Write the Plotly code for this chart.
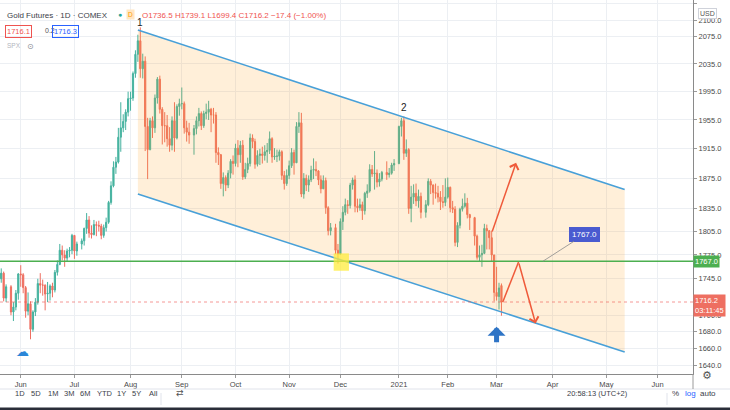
import math
import plotly.graph_objects as go

# daily candles (Gold Futures, 1D)
DATES = [
    "2020-05-20", "2020-05-21", "2020-05-22", "2020-05-26", "2020-05-27", "2020-05-28", "2020-05-29",
    "2020-06-01", "2020-06-02", "2020-06-03", "2020-06-04", "2020-06-05", "2020-06-08", "2020-06-09",
    "2020-06-10", "2020-06-11", "2020-06-12", "2020-06-15", "2020-06-16", "2020-06-17", "2020-06-18",
    "2020-06-19", "2020-06-22", "2020-06-23", "2020-06-24", "2020-06-25", "2020-06-26", "2020-06-29",
    "2020-06-30",
    "2020-07-01", "2020-07-02", "2020-07-06", "2020-07-07", "2020-07-08", "2020-07-09", "2020-07-10",
    "2020-07-13", "2020-07-14", "2020-07-15", "2020-07-16", "2020-07-17", "2020-07-20", "2020-07-21",
    "2020-07-22", "2020-07-23", "2020-07-24", "2020-07-27", "2020-07-28", "2020-07-29", "2020-07-30",
    "2020-07-31",
    "2020-08-03", "2020-08-04", "2020-08-05", "2020-08-06", "2020-08-07", "2020-08-10", "2020-08-11",
    "2020-08-12", "2020-08-13", "2020-08-14", "2020-08-17", "2020-08-18", "2020-08-19", "2020-08-20",
    "2020-08-21", "2020-08-24", "2020-08-25", "2020-08-26", "2020-08-27", "2020-08-28", "2020-08-31",
    "2020-09-01", "2020-09-02", "2020-09-03", "2020-09-04", "2020-09-08", "2020-09-09", "2020-09-10",
    "2020-09-11", "2020-09-14", "2020-09-15", "2020-09-16", "2020-09-17", "2020-09-18", "2020-09-21",
    "2020-09-22", "2020-09-23", "2020-09-24", "2020-09-25", "2020-09-28", "2020-09-29", "2020-09-30",
    "2020-10-01", "2020-10-02", "2020-10-05", "2020-10-06", "2020-10-07", "2020-10-08", "2020-10-09",
    "2020-10-12", "2020-10-13", "2020-10-14", "2020-10-15", "2020-10-16", "2020-10-19", "2020-10-20",
    "2020-10-21", "2020-10-22", "2020-10-23", "2020-10-26", "2020-10-27", "2020-10-28", "2020-10-29",
    "2020-10-30",
    "2020-11-02", "2020-11-03", "2020-11-04", "2020-11-05", "2020-11-06", "2020-11-09", "2020-11-10",
    "2020-11-11", "2020-11-12", "2020-11-13", "2020-11-16", "2020-11-17", "2020-11-18", "2020-11-19",
    "2020-11-20", "2020-11-23", "2020-11-24", "2020-11-25", "2020-11-27", "2020-11-30",
    "2020-12-01", "2020-12-02", "2020-12-03", "2020-12-04", "2020-12-07", "2020-12-08", "2020-12-09",
    "2020-12-10", "2020-12-11", "2020-12-14", "2020-12-15", "2020-12-16", "2020-12-17", "2020-12-18",
    "2020-12-21", "2020-12-22", "2020-12-23", "2020-12-24", "2020-12-28", "2020-12-29", "2020-12-30",
    "2020-12-31",
    "2021-01-04", "2021-01-05", "2021-01-06", "2021-01-07", "2021-01-08", "2021-01-11", "2021-01-12",
    "2021-01-13", "2021-01-14", "2021-01-15", "2021-01-19", "2021-01-20", "2021-01-21", "2021-01-22",
    "2021-01-25", "2021-01-26", "2021-01-27", "2021-01-28", "2021-01-29",
    "2021-02-01", "2021-02-02", "2021-02-03", "2021-02-04", "2021-02-05", "2021-02-08", "2021-02-09",
    "2021-02-10", "2021-02-11", "2021-02-12", "2021-02-16", "2021-02-17", "2021-02-18", "2021-02-19",
    "2021-02-22", "2021-02-23", "2021-02-24", "2021-02-25", "2021-02-26",
    "2021-03-01", "2021-03-02", "2021-03-03",
]
OPEN = [
    1745, 1752, 1721, 1735, 1704, 1710, 1727,
    1751, 1750, 1734, 1705, 1714, 1683, 1704, 1716, 1739, 1737, 1737, 1726, 1727, 1736,
    1731, 1753, 1763, 1781, 1775, 1771, 1780, 1781,
    1800, 1780, 1789, 1793, 1809, 1820, 1803, 1801, 1814, 1813, 1812, 1800, 1810, 1817,
    1843, 1865, 1890, 1897, 1931, 1944, 1953, 1966,
    1985, 1986, 2021, 2049, 2069, 2028, 2039, 1946, 1914, 1954, 1944, 1986, 2013, 1970,
    1947, 1947, 1929, 1920, 1954, 1930, 1974,
    1978, 1978, 1944, 1938, 1934, 1943, 1954, 1964, 1947, 1964, 1966, 1970, 1962, 1962,
    1910, 1907, 1868, 1876, 1866, 1882, 1898,
    1895, 1916, 1907, 1920, 1877, 1887, 1895, 1930, 1925, 1894, 1906, 1908, 1906, 1911,
    1913, 1929, 1904, 1905, 1905, 1911, 1879, 1868,
    1879, 1892, 1910, 1896, 1946, 1951, 1854, 1875, 1866, 1873, 1886, 1887, 1885, 1873,
    1861, 1872, 1836, 1806, 1810, 1781,
    1776, 1818, 1830, 1840, 1839, 1866, 1873, 1838, 1836, 1840, 1832, 1855, 1858, 1887,
    1881, 1882, 1870, 1874, 1883, 1880, 1882, 1893,
    1895, 1946, 1954, 1909, 1914, 1835, 1850, 1855, 1845, 1851, 1830, 1840, 1871, 1866,
    1856, 1855, 1850, 1844, 1843,
    1850, 1863, 1836, 1834, 1791, 1813, 1834, 1838, 1842, 1827, 1823, 1799, 1772, 1775,
    1777, 1809, 1806, 1797, 1775,
    1728, 1723, 1736.5,
]
HIGH = [
    1758, 1754, 1738, 1737, 1716, 1731, 1752,
    1762, 1752, 1736, 1728, 1717, 1706, 1721, 1745, 1752, 1744, 1738, 1741, 1738, 1740,
    1756, 1768, 1789, 1787, 1781, 1783, 1785, 1802,
    1800, 1792, 1796, 1810, 1829, 1825, 1813, 1820, 1818, 1819, 1815, 1814, 1823, 1845,
    1871, 1898, 1904, 1944, 1980, 1963, 1970, 1995,
    1995, 2024, 2055, 2078, 2089, 2050, 2046, 1958, 1958, 1960, 1991, 2016, 2018, 1973,
    1966, 1962, 1945, 1960, 1980, 1977, 1985,
    2001, 1981, 1954, 1951, 1948, 1960, 1972, 1967, 1968, 1978, 1982, 1972, 1972, 1966,
    1917, 1908, 1883, 1879, 1886, 1901, 1906,
    1922, 1927, 1926, 1927, 1896, 1903, 1936, 1935, 1929, 1913, 1915, 1918, 1920, 1923,
    1939, 1931, 1916, 1914, 1914, 1913, 1885, 1887,
    1899, 1916, 1914, 1952, 1966, 1965, 1882, 1880, 1879, 1892, 1902, 1898, 1886, 1879,
    1879, 1876, 1838, 1816, 1815, 1789,
    1822, 1838, 1848, 1846, 1869, 1876, 1879, 1848, 1848, 1844, 1857, 1867, 1894, 1893,
    1912, 1887, 1882, 1885, 1898, 1889, 1896, 1901,
    1947, 1958, 1960, 1928, 1916, 1865, 1867, 1868, 1860, 1856, 1846, 1875, 1874, 1867,
    1868, 1865, 1858, 1866, 1875,
    1876, 1864, 1845, 1838, 1817, 1836, 1848, 1855, 1849, 1828, 1824, 1801, 1787, 1788,
    1815, 1814, 1807, 1806, 1775,
    1760, 1740, 1739.1,
]
LOW = [
    1740, 1717, 1716, 1700, 1693, 1706, 1719,
    1735, 1727, 1697, 1700, 1671, 1680, 1699, 1713, 1727, 1724, 1706, 1716, 1718, 1722,
    1728, 1749, 1762, 1768, 1760, 1766, 1772, 1776,
    1770, 1774, 1782, 1787, 1802, 1797, 1796, 1800, 1799, 1805, 1795, 1797, 1805, 1815,
    1840, 1863, 1881, 1895, 1911, 1938, 1941, 1960,
    1968, 1982, 2015, 2038, 2015, 2014, 1912, 1874, 1913, 1930, 1937, 1978, 1964, 1921,
    1924, 1918, 1911, 1913, 1911, 1928, 1961,
    1970, 1936, 1925, 1922, 1907, 1935, 1946, 1941, 1944, 1956, 1955, 1938, 1950, 1896,
    1893, 1861, 1851, 1858, 1862, 1875, 1880,
    1891, 1890, 1896, 1873, 1874, 1882, 1891, 1916, 1888, 1891, 1893, 1895, 1899, 1896,
    1908, 1896, 1900, 1897, 1899, 1873, 1860, 1865,
    1874, 1889, 1880, 1896, 1937, 1850, 1848, 1858, 1857, 1870, 1874, 1878, 1866, 1855,
    1861, 1828, 1800, 1800, 1776, 1764,
    1775, 1807, 1826, 1828, 1835, 1860, 1830, 1830, 1832, 1820, 1827, 1849, 1856, 1877,
    1860, 1863, 1864, 1871, 1873, 1876, 1880, 1885,
    1894, 1932, 1900, 1904, 1828, 1817, 1841, 1838, 1836, 1822, 1823, 1838, 1854, 1840,
    1848, 1843, 1833, 1836, 1838,
    1848, 1830, 1829, 1786, 1785, 1809, 1831, 1836, 1822, 1807, 1787, 1769, 1767, 1760,
    1776, 1782, 1782, 1767, 1717,
    1718, 1707, 1699.4,
]
CLOSE = [
    1752, 1721, 1735, 1704, 1710, 1727, 1751,
    1750, 1734, 1705, 1714, 1683, 1704, 1716, 1739, 1737, 1737, 1726, 1727, 1736, 1731,
    1753, 1763, 1781, 1775, 1771, 1780, 1781, 1800,
    1780, 1789, 1793, 1809, 1820, 1803, 1801, 1814, 1813, 1812, 1800, 1810, 1817, 1843,
    1865, 1890, 1897, 1931, 1944, 1953, 1966, 1985,
    1986, 2021, 2049, 2069, 2028, 2039, 1946, 1914, 1954, 1944, 1986, 2013, 1970, 1947,
    1947, 1929, 1920, 1954, 1930, 1974, 1978,
    1978, 1944, 1938, 1934, 1943, 1954, 1964, 1947, 1964, 1966, 1970, 1962, 1962, 1910,
    1907, 1868, 1876, 1866, 1882, 1898, 1895,
    1916, 1907, 1920, 1877, 1887, 1895, 1930, 1925, 1894, 1906, 1908, 1906, 1911, 1913,
    1929, 1904, 1905, 1905, 1911, 1879, 1868, 1879,
    1892, 1910, 1896, 1946, 1951, 1854, 1875, 1866, 1873, 1886, 1887, 1885, 1873, 1861,
    1872, 1836, 1806, 1810, 1781, 1776,
    1818, 1830, 1840, 1839, 1866, 1873, 1838, 1836, 1840, 1832, 1855, 1858, 1887, 1881,
    1882, 1870, 1874, 1883, 1880, 1882, 1893, 1895,
    1946, 1954, 1909, 1914, 1835, 1850, 1855, 1845, 1851, 1830, 1840, 1871, 1866, 1856,
    1855, 1850, 1844, 1843, 1850,
    1863, 1836, 1834, 1791, 1813, 1834, 1838, 1842, 1827, 1823, 1799, 1772, 1775, 1777,
    1809, 1806, 1797, 1775, 1728,
    1723, 1733.6, 1716.2,
]

# axis ticks
MONTH_TICKS = ["2020-06-01", "2020-07-01", "2020-08-03", "2020-09-01", "2020-10-01", "2020-11-02",
               "2020-12-01", "2021-01-04", "2021-02-01", "2021-03-01", "2021-04-01", "2021-05-03",
               "2021-06-01"]
MONTH_LABELS = ["Jun", "Jul", "Aug", "Sep", "Oct", "Nov", "Dec", "2021", "Feb", "Mar", "Apr", "May", "Jun"]
PRICE_TICKS = [2125, 2100, 2075, 2035, 1995, 1955, 1915, 1875, 1835, 1805, 1775, 1745, 1700, 1680, 1660, 1640]

# drawings
CHANNEL_X = ["2020-08-06", "2021-05-12 12:00"]
CHANNEL_TOP = [2085, 1860]
CHANNEL_BOTTOM = [1854, 1656]
LEVEL = 1767.0
LAST = 1716.2
BOX_X = ["2020-11-26 06:00", "2020-12-04 12:00"]
BOX_Y = [1755, 1777]
UP_ARROW_X = ["2021-02-25", "2021-03-11"]
UP_ARROW_Y = [1803, 1896]
ZIGZAG_X = ["2021-03-03 12:00", "2021-03-12", "2021-03-23"]
ZIGZAG_Y = [1716, 1766, 1690]

FONT = "Liberation Sans"
GREEN = "#45b29f"
RED = "#ee6f61"
CH_BLUE = "#48a0d8"
ARROW_RED = "#ef5a3a"

PLOT_W, PLOT_H = 693, 374


def px(x):
    return x / PLOT_W


def py(y):
    return (PLOT_H - y) / PLOT_H


fig = go.Figure()

fig.add_trace(go.Candlestick(
    x=DATES, open=OPEN, high=HIGH, low=LOW, close=CLOSE,
    increasing=dict(line=dict(color=GREEN, width=1), fillcolor=GREEN),
    decreasing=dict(line=dict(color=RED, width=1), fillcolor=RED),
    whiskerwidth=0, showlegend=False,
))

# channel fill, drawn over the candles like the platform does
fig.add_trace(go.Scatter(
    x=[CHANNEL_X[0], CHANNEL_X[1], CHANNEL_X[1], CHANNEL_X[0]],
    y=[CHANNEL_TOP[0], CHANNEL_TOP[1], CHANNEL_BOTTOM[1], CHANNEL_BOTTOM[0]],
    fill="toself", fillcolor="rgba(255,160,30,0.17)", mode="lines",
    line=dict(width=0), hoverinfo="skip", showlegend=False,
))

# channel borders
for ys in (CHANNEL_TOP, CHANNEL_BOTTOM):
    fig.add_trace(go.Scatter(
        x=CHANNEL_X, y=ys, mode="lines",
        line=dict(color=CH_BLUE, width=1.6), hoverinfo="skip", showlegend=False,
    ))

shapes = [
    dict(type="line", xref="paper", x0=0, x1=1, yref="y", y0=LAST, y1=LAST,
         line=dict(color="rgba(239,83,80,0.6)", width=1, dash="dot")),
    dict(type="line", xref="paper", x0=0, x1=1, yref="y", y0=LEVEL, y1=LEVEL,
         line=dict(color="#4caf50", width=1.4)),
    dict(type="rect", xref="x", yref="y", x0=BOX_X[0], x1=BOX_X[1], y0=BOX_Y[0], y1=BOX_Y[1],
         fillcolor="rgba(255,236,60,0.75)", line=dict(width=0), layer="above"),
    # zigzag first leg
    dict(type="line", xref="x", yref="y", x0=ZIGZAG_X[0], y0=ZIGZAG_Y[0], x1=ZIGZAG_X[1], y1=ZIGZAG_Y[1],
         line=dict(color=ARROW_RED, width=1.5)),
    # bottom bar separators
    dict(type="line", xref="paper", yref="paper", x0=0, x1=730 / PLOT_W, y0=py(389), y1=py(389),
         line=dict(color="#e0e3eb", width=1)),
    dict(type="line", xref="paper", yref="paper", x0=1, x1=1, y0=py(374), y1=py(389),
         line=dict(color="#9a9a9a", width=1)),
    dict(type="line", xref="paper", yref="paper", x0=px(161), x1=px(161), y0=py(393), y1=py(405),
         line=dict(color="#e0e3eb", width=1)),
    dict(type="line", xref="paper", yref="paper", x0=px(667), x1=px(667), y0=py(393), y1=py(405),
         line=dict(color="#e0e3eb", width=1)),
    dict(type="rect", xref="paper", yref="paper", x0=0, x1=730 / PLOT_W, y0=py(410), y1=py(407.5),
         fillcolor="#2a2e39", line=dict(width=0)),
]

ann = []
# arrows
ann.append(dict(x=UP_ARROW_X[1], y=math.log10(UP_ARROW_Y[1]), ax=UP_ARROW_X[0], ay=math.log10(UP_ARROW_Y[0]),
                axref="x", ayref="y", xref="x", yref="y", text="", showarrow=True,
                arrowhead=4, arrowsize=1.2, arrowwidth=1.5, arrowcolor=ARROW_RED))
ann.append(dict(x=ZIGZAG_X[2], y=math.log10(ZIGZAG_Y[2]), ax=ZIGZAG_X[1], ay=math.log10(ZIGZAG_Y[1]),
                axref="x", ayref="y", xref="x", yref="y", text="", showarrow=True,
                arrowhead=4, arrowsize=1.2, arrowwidth=1.5, arrowcolor=ARROW_RED))
# big blue arrow
ann.append(dict(x="2021-03-01", y=math.log10(1686), xref="x", yref="y", text="", showarrow=True,
                ax=0, ay=17, arrowhead=1, arrowsize=0.6, arrowwidth=5, arrowcolor="#2e74c6"))
# price label on level
ann.append(dict(x="2021-03-26", y=math.log10(LEVEL), xref="x", yref="y", text="1767.0", showarrow=True,
                ax=42, ay=-27, arrowhead=0, arrowwidth=0.8, arrowcolor="#8a8a8a",
                bgcolor="#4a5bd0", bordercolor="#4a5bd0", borderpad=2,
                font=dict(family=FONT, size=8, color="white")))
# wave labels
ann.append(dict(x="2020-08-07", y=math.log10(2097), xref="x", yref="y", text="1", showarrow=False,
                font=dict(family=FONT, size=10, color="#222")))
ann.append(dict(x="2021-01-06", y=math.log10(1973), xref="x", yref="y", text="2", showarrow=False,
                font=dict(family=FONT, size=10, color="#222")))

# right axis price labels
ann.append(dict(xref="paper", x=1, xanchor="left", yref="y", y=math.log10(LEVEL), text="1767.0",
                showarrow=False, bgcolor="#4caf50", borderpad=1,
                font=dict(family=FONT, size=7.5, color="white")))
ann.append(dict(xref="paper", x=1, xanchor="left", yref="y", y=math.log10(1711.5), text="1716.2<br>03:11:45",
                showarrow=False, bgcolor=RED, borderpad=1, align="left",
                font=dict(family=FONT, size=7.5, color="white")))
ann.append(dict(xref="paper", x=px(717), yref="paper", y=py(8), text="USD", showarrow=False,
                bgcolor="white", bordercolor="#cfd2da", borderwidth=1, borderpad=1,
                font=dict(family=FONT, size=7, color="#555")))

# header legend
ann.append(dict(xref="paper", x=px(5), xanchor="left", yref="paper", y=py(9), text="Gold Futures · 1D · COMEX",
                showarrow=False, font=dict(family=FONT, size=8, color="#3b3e48")))
ann.append(dict(xref="paper", x=px(116), yref="paper", y=py(9), text="●", showarrow=False,
                font=dict(family=FONT, size=7, color="#26a69a")))
ann.append(dict(xref="paper", x=px(126), yref="paper", y=py(9), text="D", showarrow=False,
                bgcolor="#ffe6c2", borderpad=1, font=dict(family=FONT, size=6.5, color="#ff9800")))
ann.append(dict(xref="paper", x=px(140), xanchor="left", yref="paper", y=py(9),
                text="O1736.5 H1739.1 L1699.4 C1716.2 −17.4 (−1.00%)",
                showarrow=False, font=dict(family=FONT, size=8, color="#ef5350")))
ann.append(dict(xref="paper", x=px(5), xanchor="left", yref="paper", y=py(25), text="1716.1",
                showarrow=False, bordercolor="#ef5350", borderwidth=1, borderpad=1,
                font=dict(family=FONT, size=7.5, color="#ef5350")))
ann.append(dict(xref="paper", x=px(43), yref="paper", y=py(25), text="0.2", showarrow=False,
                font=dict(family=FONT, size=7, color="#555")))
ann.append(dict(xref="paper", x=px(52), xanchor="left", yref="paper", y=py(25), text="1716.3",
                showarrow=False, bordercolor="#2962ff", borderwidth=1, borderpad=1,
                font=dict(family=FONT, size=7.5, color="#2962ff")))
ann.append(dict(xref="paper", x=px(5), xanchor="left", yref="paper", y=py(40), text="SPX",
                showarrow=False, font=dict(family=FONT, size=6.5, color="#b2b5be")))
ann.append(dict(xref="paper", x=px(25), yref="paper", y=py(40), text="⊙",
                showarrow=False, font=dict(family="DejaVu Sans", size=8, color="#8a8d96")))

# logo and gear
ann.append(dict(xref="paper", x=px(14), yref="paper", y=py(361), text="☁", showarrow=False,
                font=dict(family="DejaVu Sans", size=13, color="#2a86d8")))
ann.append(dict(xref="paper", x=px(714), yref="paper", y=py(384), text="⚙", showarrow=False,
                font=dict(family="DejaVu Sans", size=11, color="#555")))

# bottom toolbar
RANGE_BUTTONS = ["1D", "5D", "1M", "3M", "6M", "YTD", "1Y", "5Y", "All"]
RANGE_X = [13, 29, 46, 62, 78, 95, 115, 130, 147]
for lab, xx in zip(RANGE_BUTTONS, RANGE_X):
    ann.append(dict(xref="paper", x=px(xx), yref="paper", y=py(400), text=lab, showarrow=False,
                    font=dict(family=FONT, size=7.5, color="#3b3e48")))
ann.append(dict(xref="paper", x=px(174), yref="paper", y=py(400), text="⇄", showarrow=False,
                font=dict(family="DejaVu Sans", size=9, color="#555")))
ann.append(dict(xref="paper", x=px(630), yref="paper", y=py(400), text="20:58:13 (UTC+2)", showarrow=False,
                font=dict(family=FONT, size=7.5, color="#3b3e48")))
ann.append(dict(xref="paper", x=px(681), yref="paper", y=py(400), text="%", showarrow=False,
                font=dict(family=FONT, size=8, color="#3b3e48")))
ann.append(dict(xref="paper", x=px(698), yref="paper", y=py(400), text="log", showarrow=False,
                font=dict(family=FONT, size=8, color="#2962ff")))
ann.append(dict(xref="paper", x=px(718), yref="paper", y=py(400), text="auto", showarrow=False,
                font=dict(family=FONT, size=8, color="#3b3e48")))

fig.update_layout(
    width=730, height=410,
    margin=dict(l=0, r=37, t=0, b=36),
    paper_bgcolor="white", plot_bgcolor="white",
    font=dict(family=FONT, size=8, color="#4a4a4a"),
    showlegend=False,
    shapes=shapes,
    annotations=ann,
    xaxis=dict(
        type="date",
        range=["2020-05-19 12:00", "2021-06-21 12:00"],
        rangebreaks=[dict(bounds=["sat", "mon"])],
        rangeslider=dict(visible=False),
        tickvals=MONTH_TICKS, ticktext=MONTH_LABELS,
        tickfont=dict(size=7.5, color="#4a4a4a"),
        ticks="outside", ticklen=3, tickcolor="#9a9a9a",
        showline=True, linecolor="#8a8a8a", linewidth=1,
        showgrid=True, gridcolor="#eceff3", zeroline=False,
        automargin=False, fixedrange=True,
    ),
    yaxis=dict(
        type="log", side="right",
        range=[math.log10(1630), math.log10(2130.3)],
        tickvals=PRICE_TICKS, ticktext=[f"{v:.1f}" for v in PRICE_TICKS],
        tickfont=dict(size=7.5, color="#4a4a4a"),
        ticks="outside", ticklen=3, tickcolor="#9a9a9a",
        showline=True, linecolor="#8a8a8a", linewidth=1,
        showgrid=True, gridcolor="#eceff3", zeroline=False,
        automargin=False, fixedrange=True,
    ),
)

# the page body has a default 8px margin; drop it so the 730x410 figure fills the window
fig.write_html("out.html", config=dict(displayModeBar=False),
               post_script="document.body.style.margin='0px';")
